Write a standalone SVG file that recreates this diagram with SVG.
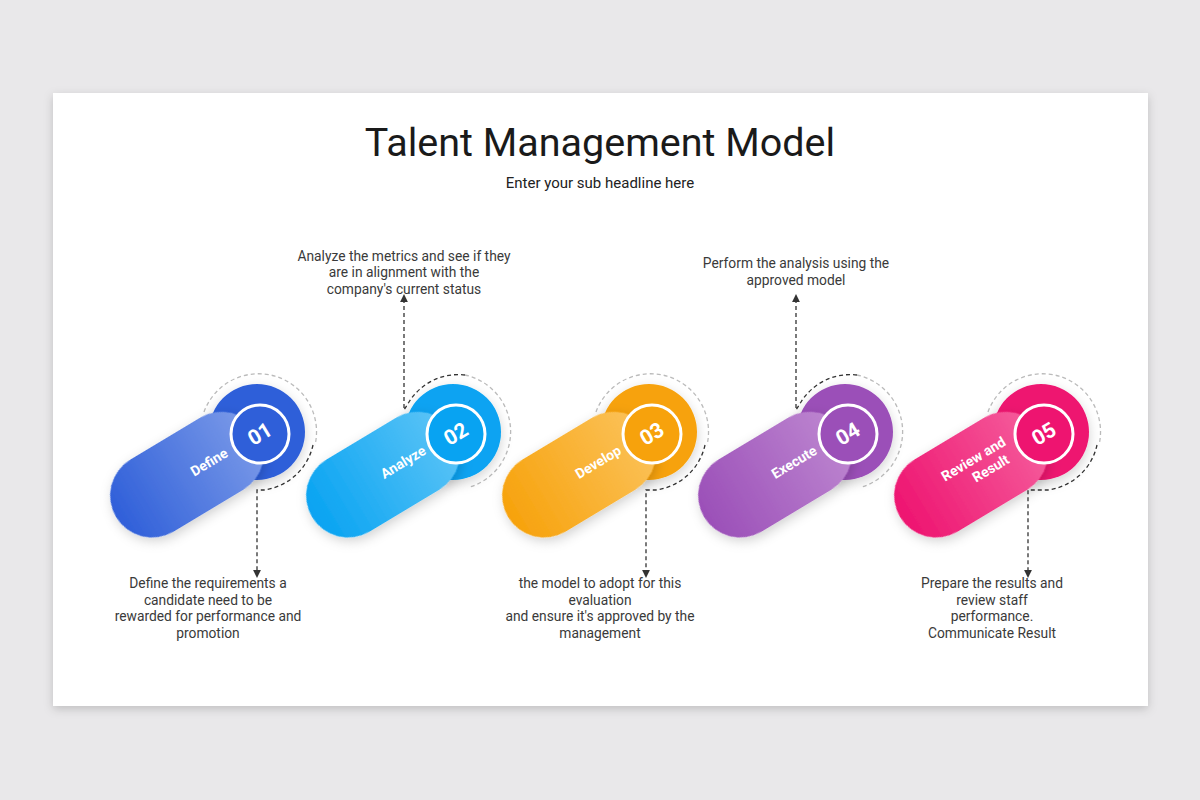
<svg xmlns="http://www.w3.org/2000/svg" width="1200" height="800" viewBox="0 0 1200 800">
<defs>
<filter id="sh" x="-5%" y="-5%" width="110%" height="115%"><feDropShadow dx="0" dy="3" stdDeviation="5" flood-color="#000" flood-opacity="0.18"/></filter>
<filter id="ps" x="-30%" y="-30%" width="160%" height="160%"><feDropShadow dx="0" dy="4" stdDeviation="6" flood-color="#000" flood-opacity="0.18"/></filter>
<marker id="ar" viewBox="0 0 10 10" refX="5" refY="5" markerWidth="6" markerHeight="6" orient="auto-start-reverse"><path d="M0,0 L10,5 L0,10 z" fill="#333"/></marker>
<linearGradient id="g1" x1="0" y1="0" x2="1" y2="0"><stop offset="0" stop-color="#2f5fd9"/><stop offset="1" stop-color="#7b9ae8"/></linearGradient>
<linearGradient id="g2" x1="0" y1="0" x2="1" y2="0"><stop offset="0" stop-color="#08a3f2"/><stop offset="1" stop-color="#5cc4f6"/></linearGradient>
<linearGradient id="g3" x1="0" y1="0" x2="1" y2="0"><stop offset="0" stop-color="#f7a20c"/><stop offset="1" stop-color="#fbc25a"/></linearGradient>
<linearGradient id="g4" x1="0" y1="0" x2="1" y2="0"><stop offset="0" stop-color="#9b4fb8"/><stop offset="1" stop-color="#bd86d0"/></linearGradient>
<linearGradient id="g5" x1="0" y1="0" x2="1" y2="0"><stop offset="0" stop-color="#ee1470"/><stop offset="1" stop-color="#f55d9c"/></linearGradient>
</defs>
<style>
.t{font-family:Roboto,"Liberation Sans",sans-serif}
.d{font-family:Roboto,"Liberation Sans",sans-serif;font-size:13.8px;fill:#3a3a3a;text-anchor:middle}
.lbl{font-family:Roboto,"Liberation Sans",sans-serif;font-size:14px;font-weight:bold;fill:#fff;text-anchor:middle}
.num{font-family:Roboto,"Liberation Sans",sans-serif;font-size:21px;font-weight:bold;fill:#fff;text-anchor:middle}
.lc{fill:none;stroke:#bbb;stroke-width:1.3;stroke-dasharray:4 3}
.dk{fill:none;stroke:#333;stroke-width:1.3;stroke-dasharray:4 3}
.ring{fill:none;stroke:#fff;stroke-width:3}
</style>
<rect width="1200" height="800" fill="#e9e8ea"/>
<rect x="53" y="93" width="1095" height="613" fill="#fff" filter="url(#sh)"/>
<text class="t" x="600" y="156" font-size="39.5" text-anchor="middle" fill="#1a1a1a">Talent Management Model</text>
<text class="t" x="600" y="188" font-size="15" text-anchor="middle" fill="#222">Enter your sub headline here</text>

<g id="connectors">
<path class="dk" d="M313,445 A58,58 0 0 1 264,490 L257,490 L257,574" marker-end="url(#ar)"/>
<path class="dk" d="M465,375 A58,58 0 0 0 409,402 L404,410 L404,298" marker-end="url(#ar)"/>
<path class="dk" d="M705,445 A58,58 0 0 1 656,490 L646,490 L646,574" marker-end="url(#ar)"/>
<path class="dk" d="M857,375 A58,58 0 0 0 801,402 L796,410 L796,298" marker-end="url(#ar)"/>
<path class="dk" d="M1097,445 A58,58 0 0 1 1048,490 L1028,490 L1028,574" marker-end="url(#ar)"/>
</g>

<g id="n1">
<path class="lc" d="M204,412 A58,58 0 0 1 315,445"/>
<circle cx="257" cy="432" r="48" fill="#2f5fd9" filter="url(#ps)"/>
<g transform="translate(153,495) rotate(-31)"><rect x="-43" y="-42" width="165" height="84" rx="42" fill="url(#g1)" filter="url(#ps)"/></g>
<circle cx="260" cy="434" r="29" fill="#2f5fd9"/><circle cx="260" cy="434" r="29" class="ring"/>
<text class="num" x="260" y="441" transform="rotate(-31 260 434)">01</text>
<text class="lbl" x="209" y="467" transform="rotate(-31 209 462)">Define</text>
</g>
<g id="n2">
<path class="lc" d="M465,375 A58,58 0 0 1 470,487"/>
<circle cx="453" cy="432" r="48" fill="#08a3f2" filter="url(#ps)"/>
<g transform="translate(349,495) rotate(-31)"><rect x="-43" y="-42" width="165" height="84" rx="42" fill="url(#g2)" filter="url(#ps)"/></g>
<circle cx="456" cy="434" r="29" fill="#08a3f2"/><circle cx="456" cy="434" r="29" class="ring"/>
<text class="num" x="456" y="441" transform="rotate(-31 456 434)">02</text>
<text class="lbl" x="403" y="467" transform="rotate(-31 403 462)">Analyze</text>
</g>
<g id="n3">
<path class="lc" d="M596,412 A58,58 0 0 1 707,445"/>
<circle cx="649" cy="432" r="48" fill="#f7a20c" filter="url(#ps)"/>
<g transform="translate(545,495) rotate(-31)"><rect x="-43" y="-42" width="165" height="84" rx="42" fill="url(#g3)" filter="url(#ps)"/></g>
<circle cx="652" cy="434" r="29" fill="#f7a20c"/><circle cx="652" cy="434" r="29" class="ring"/>
<text class="num" x="652" y="441" transform="rotate(-31 652 434)">03</text>
<text class="lbl" x="598" y="467" transform="rotate(-31 598 462)">Develop</text>
</g>
<g id="n4">
<path class="lc" d="M857,375 A58,58 0 0 1 862,487"/>
<circle cx="845" cy="432" r="48" fill="#9b4fb8" filter="url(#ps)"/>
<g transform="translate(741,495) rotate(-31)"><rect x="-43" y="-42" width="165" height="84" rx="42" fill="url(#g4)" filter="url(#ps)"/></g>
<circle cx="848" cy="434" r="29" fill="#9b4fb8"/><circle cx="848" cy="434" r="29" class="ring"/>
<text class="num" x="848" y="441" transform="rotate(-31 848 434)">04</text>
<text class="lbl" x="794" y="467" transform="rotate(-31 794 462)">Execute</text>
</g>
<g id="n5">
<path class="lc" d="M988,412 A58,58 0 0 1 1099,445"/>
<circle cx="1041" cy="432" r="48" fill="#ee1470" filter="url(#ps)"/>
<g transform="translate(937,495) rotate(-31)"><rect x="-43" y="-42" width="165" height="84" rx="42" fill="url(#g5)" filter="url(#ps)"/></g>
<circle cx="1044" cy="434" r="29" fill="#ee1470"/><circle cx="1044" cy="434" r="29" class="ring"/>
<text class="num" x="1044" y="441" transform="rotate(-31 1044 434)">05</text>
<text class="lbl" transform="translate(980,470) rotate(-31)"><tspan x="0" y="-8">Review and</tspan><tspan x="10" y="9">Result</tspan></text>
</g>

<g id="texts">
<text class="d"><tspan x="404" y="261">Analyze the metrics and see if they</tspan><tspan x="404" y="277">are in alignment with the</tspan><tspan x="404" y="294">company's current status</tspan></text>
<text class="d"><tspan x="796" y="268">Perform the analysis using the</tspan><tspan x="796" y="285">approved model</tspan></text>
<text class="d"><tspan x="208" y="588">Define the requirements a</tspan><tspan x="208" y="605">candidate need to be</tspan><tspan x="208" y="621">rewarded for performance and</tspan><tspan x="208" y="638">promotion</tspan></text>
<text class="d"><tspan x="600" y="588">the model to adopt for this</tspan><tspan x="600" y="605">evaluation</tspan><tspan x="600" y="621">and ensure it's approved by the</tspan><tspan x="600" y="638">management</tspan></text>
<text class="d"><tspan x="992" y="588">Prepare the results and</tspan><tspan x="992" y="605">review staff</tspan><tspan x="992" y="621">performance.</tspan><tspan x="992" y="638">Communicate Result</tspan></text>
</g>
</svg>
